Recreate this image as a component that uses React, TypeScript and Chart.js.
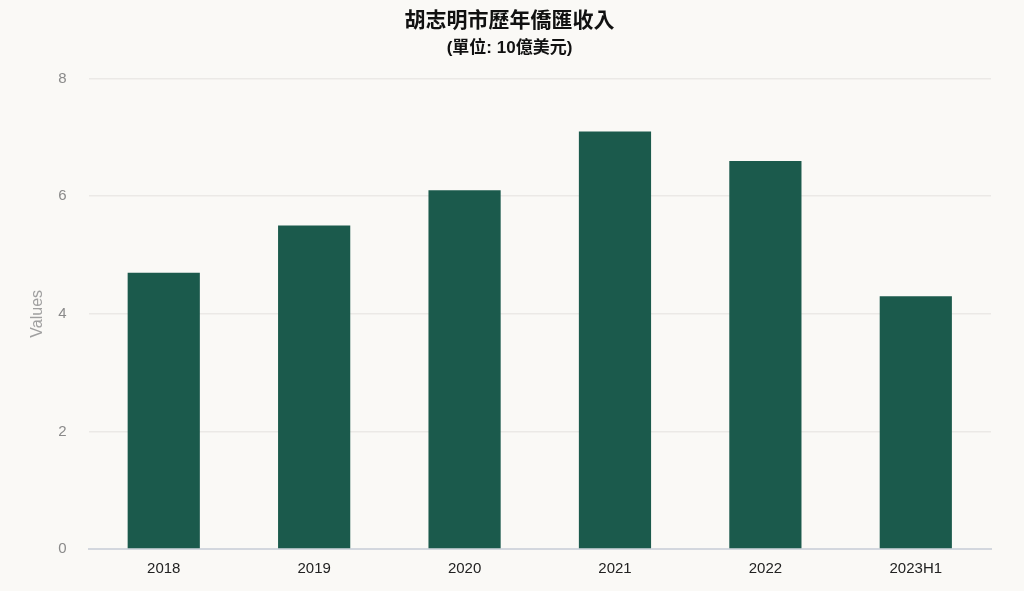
import React, { useEffect, useRef } from 'react';
import { Chart, registerables } from 'chart.js';

Chart.register(...registerables);

const years = ['2018', '2019', '2020', '2021', '2022', '2023H1'];
const remittances = [4.7, 5.5, 6.1, 7.1, 6.6, 4.3]; // 10億美元
const yTicks = [0, 2, 4, 6, 8];

const FONT = '"Liberation Sans", Arial, "Noto Sans CJK TC", sans-serif';

const App: React.FC = () => {
  const canvasRef = useRef<HTMLCanvasElement | null>(null);

  useEffect(() => {
    if (!canvasRef.current) return;

    const chart = new Chart(canvasRef.current, {
      type: 'bar',
      data: {
        labels: years,
        datasets: [
          {
            label: 'Values',
            data: remittances,
            backgroundColor: '#1b5a4c',
            borderWidth: 0,
            barPercentage: 0.48,
            categoryPercentage: 1,
          },
        ],
      },
      options: {
        animation: false,
        responsive: true,
        maintainAspectRatio: false,
        layout: { padding: { left: 28, right: 33, top: 2, bottom: 10 } },
        plugins: {
          legend: { display: false },
          tooltip: { enabled: false },
          title: {
            display: true,
            text: '胡志明市歷年僑匯收入',
            color: '#111',
            font: { family: FONT, size: 21, weight: 'bold' },
            padding: { top: 7, bottom: 4 },
          },
          subtitle: {
            display: true,
            text: '(單位: 10億美元)',
            color: '#111',
            font: { family: FONT, size: 17, weight: 'bold' },
            padding: { bottom: 20 },
          },
        },
        scales: {
          x: {
            grid: { display: false },
            border: { color: '#d3d7de', width: 2 },
            ticks: {
              color: '#222',
              font: { family: FONT, size: 15 },
              padding: 3,
            },
          },
          y: {
            min: 0,
            max: 8,
            afterBuildTicks: (axis) => {
              axis.ticks = yTicks.map((v) => ({ value: v }));
            },
            grid: {
              color: '#ebe9e6',
              lineWidth: 1.5,
              tickLength: 11,
              tickColor: 'rgba(0,0,0,0)',
            },
            border: { display: false },
            ticks: {
              color: '#8a8a8a',
              font: { family: FONT, size: 15 },
              padding: 11,
            },
            title: {
              display: true,
              text: 'Values',
              color: '#a0a0a0',
              font: { family: FONT, size: 16 },
              padding: { top: 0, bottom: 0 },
            },
          },
        },
      },
    });

    return () => chart.destroy();
  }, []);

  return (
    <div
      style={{
        position: 'fixed',
        left: 0,
        top: 0,
        width: '1024px',
        height: '591px',
        background: '#faf9f6',
      }}
    >
      <canvas ref={canvasRef} />
    </div>
  );
};

export default App;
